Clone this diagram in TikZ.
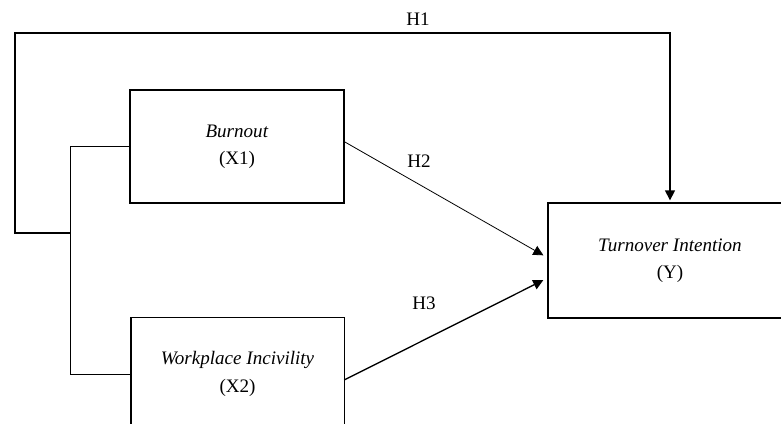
\documentclass[tikz,border=0pt]{standalone}
\usepackage{fontspec}
\setmainfont{Liberation Serif}
\usepackage{tikz}
\usetikzlibrary{arrows.meta}

\begin{document}
\begin{tikzpicture}[x=0.75pt, y=-0.75pt,
		varbox/.style={draw, line width=1pt, inner sep=0pt, outer sep=0pt, align=center,
			font=\fontsize{14.3}{20.5}\selectfont},
		link/.style={line width=0.6pt},
		path/.style={line width=1pt},
		tip/.style={-{Triangle[length=7.5pt, width=7.5pt]}},
		hyp/.style={font=\fontsize{14.3}{16}\selectfont}]
				\useasboundingbox (0,0) rectangle (781,424);
				\clip (0,0) rectangle (781,424);
				\node[varbox, minimum width=160.5pt, minimum height=84.75pt] (burnout) at (237,146.5) {\textit{Burnout}\\(X1)};
				\node[varbox, minimum width=160pt, minimum height=84.75pt] (incivility) at (237.5,374) {\textit{Workplace Incivility}\\(X2)};
				\node[varbox, minimum width=183pt, minimum height=86.25pt] (turnover) at (670,260.5) {\textit{Turnover Intention}\\(Y)};
				% bracket joining X1 and X2
				\coordinate (jtop) at (70,146.5);
				\coordinate (jmid) at (70,233);
				\coordinate (jbot) at (70,374);
				\draw[link] (burnout.west) -- (jtop) -- (jbot) -- (incivility.west);
				% H1
				\coordinate (h1a) at (15,233);
				\coordinate (h1b) at (15,33);
				\coordinate (h1c) at (670,33);
				\draw[path, tip, shorten >=2pt] (jmid) -- (h1a) -- (h1b) -- (h1c) -- (turnover.north);
				\node[hyp] (h1) at (418,19) {H1};
				% H2 and H3
				\draw[link, tip, shorten >=4pt] ([yshift=3.75pt]burnout.east) -- ([yshift=1.9pt]turnover.west);
				\draw[path, tip, shorten >=4pt] ([yshift=-4.5pt]incivility.east) -- ([yshift=-13pt]turnover.west);
				\node[hyp] (h2) at (419,161) {H2};
				\node[hyp] (h3) at (424,303) {H3};
			\end{tikzpicture}
\end{document}
